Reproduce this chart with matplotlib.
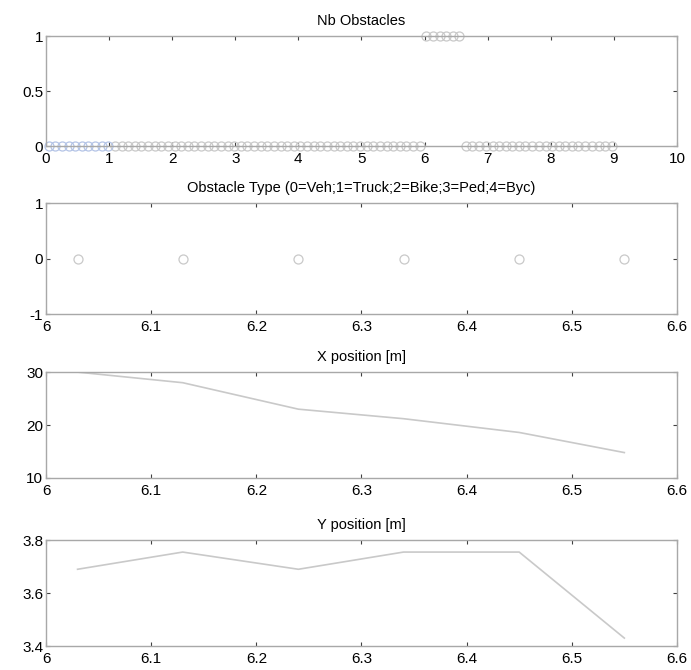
import matplotlib
matplotlib.use("Agg")
import matplotlib.pyplot as plt

plt.rcParams['font.family'] = ['Liberation Sans', 'DejaVu Sans']
plt.rcParams['axes.unicode_minus'] = False

# Nb Obstacles (sampled every ~0.105 s)
nb_time = [0.04, 0.15, 0.25, 0.36, 0.46, 0.57, 0.67, 0.78, 0.88, 0.99,
           1.09, 1.20, 1.30, 1.41, 1.51, 1.62, 1.72, 1.83, 1.93, 2.04,
           2.14, 2.25, 2.35, 2.46, 2.56, 2.67, 2.77, 2.88, 2.98, 3.09,
           3.19, 3.30, 3.40, 3.51, 3.61, 3.72, 3.82, 3.93, 4.03, 4.14,
           4.24, 4.35, 4.45, 4.56, 4.66, 4.77, 4.87, 4.98, 5.08, 5.19,
           5.29, 5.40, 5.50, 5.61, 5.71, 5.82, 5.92, 6.03, 6.13, 6.24,
           6.34, 6.45, 6.55, 6.66, 6.76, 6.87, 6.97, 7.08, 7.18, 7.29,
           7.39, 7.50, 7.60, 7.71, 7.81, 7.92, 8.02, 8.13, 8.23, 8.34,
           8.44, 8.55, 8.65, 8.76, 8.86, 8.97]
nb_value = [0, 0, 0, 0, 0, 0, 0, 0, 0, 0,
            0, 0, 0, 0, 0, 0, 0, 0, 0, 0,
            0, 0, 0, 0, 0, 0, 0, 0, 0, 0,
            0, 0, 0, 0, 0, 0, 0, 0, 0, 0,
            0, 0, 0, 0, 0, 0, 0, 0, 0, 0,
            0, 0, 0, 0, 0, 0, 0, 1, 1, 1,
            1, 1, 1, 0, 0, 0, 0, 0, 0, 0,
            0, 0, 0, 0, 0, 0, 0, 0, 0, 0,
            0, 0, 0, 0, 0, 0]
n_blue = 10  # first samples drawn in blue

# obstacle track
obs_time = [6.03, 6.13, 6.24, 6.34, 6.45, 6.55]
obs_type = [0, 0, 0, 0, 0, 0]
obs_x = [30.0, 28.0, 23.0, 21.2, 18.6, 14.8]
obs_y = [3.69, 3.755, 3.69, 3.755, 3.755, 3.43]

grey = '#c9c9c9'
box = '#a8a8a8'

fig = plt.figure(figsize=(6.91, 6.70), dpi=100)
rects = [[0.0666, 0.782, 0.913, 0.164],
         [0.0666, 0.531, 0.913, 0.166],
         [0.0666, 0.2866, 0.913, 0.158],
         [0.0666, 0.0358, 0.913, 0.158]]
axs = [fig.add_axes(r) for r in rects]

ax = axs[0]
ax.plot(nb_time[n_blue:], nb_value[n_blue:], 'o', color=grey, mfc='none', ms=6.5, mew=0.9, clip_on=False)
ax.plot(nb_time[:n_blue], nb_value[:n_blue], 'o', color='#b4c4e6', mfc='none', ms=6.5, mew=0.9, clip_on=False)
ax.set_xlim(0, 10)
ax.set_ylim(0, 1)
ax.set_xticks(range(0, 11))
ax.set_yticks([0, 0.5, 1])
ax.set_yticklabels(['0', '0.5', '1'])
ax.set_title('Nb Obstacles', fontsize=10.5, pad=8)

ax = axs[1]
ax.plot(obs_time, obs_type, 'o', color=grey, mfc='none', ms=6.5, mew=0.9)
ax.set_xlim(6, 6.6)
ax.set_ylim(-1, 1)
ax.set_yticks([-1, 0, 1])
ax.set_title('Obstacle Type (0=Veh;1=Truck;2=Bike;3=Ped;4=Byc)', fontsize=10.5, pad=8)

ax = axs[2]
ax.plot(obs_time, obs_x, '-', color=grey, lw=1.2)
ax.set_xlim(6, 6.6)
ax.set_ylim(10, 30)
ax.set_yticks([10, 20, 30])
ax.set_title('X position [m]', fontsize=10.5, pad=8)

ax = axs[3]
ax.plot(obs_time, obs_y, '-', color=grey, lw=1.2)
ax.set_xlim(6, 6.6)
ax.set_ylim(3.4, 3.8)
ax.set_yticks([3.4, 3.6, 3.8])
ax.set_yticklabels(['3.4', '3.6', '3.8'])
ax.set_title('Y position [m]', fontsize=10.5, pad=8)

for ax in axs[1:]:
    ax.set_xticks([6, 6.1, 6.2, 6.3, 6.4, 6.5, 6.6])
    ax.set_xticklabels(['6', '6.1', '6.2', '6.3', '6.4', '6.5', '6.6'])

for ax in axs:
    for s in ax.spines.values():
        s.set_color(box)
        s.set_linewidth(1.0)
    ax.tick_params(direction='in', top=True, right=True, length=3, width=0.8,
                   color='#404040', labelsize=11)
    ax.tick_params(axis='x', pad=4)
    ax.tick_params(axis='y', pad=2)

fig.savefig('out.png', dpi=100)
